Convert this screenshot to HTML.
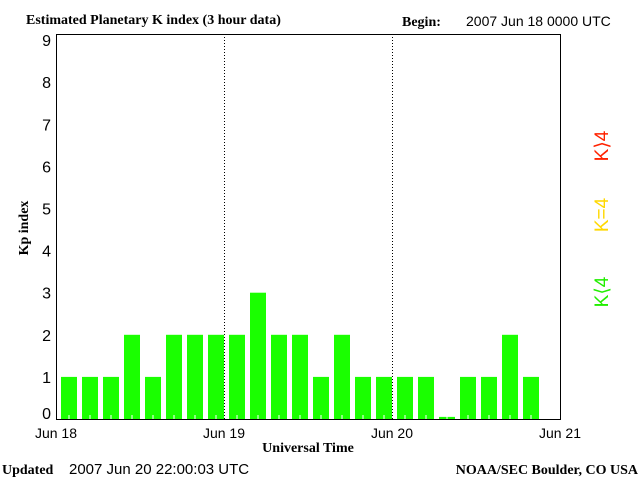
<!DOCTYPE html>
<html><head><style>
body{margin:0;background:#fff;}
svg{display:block;font-family:"Liberation Sans","DejaVu Sans",sans-serif;}
</style></head><body>
<svg id="chart" width="640" height="480" xmlns="http://www.w3.org/2000/svg">
<rect x="0" y="0" width="640" height="480" fill="#fff"/>
<text x="26" y="24" font-size="14" font-weight="bold" font-family="Liberation Serif, serif">Estimated Planetary K index (3 hour data)</text>
<text x="402" y="26" font-size="14" font-weight="bold" font-family="Liberation Serif, serif">Begin:</text>
<text x="466" y="26" font-size="14">2007 Jun 18 0000 UTC</text>
<g id="bars"></g>
<g id="axes"></g>
<text x="308" y="452" font-size="14" font-weight="bold" text-anchor="middle" font-family="Liberation Serif, serif">Universal Time</text>
<text transform="translate(28,228) rotate(-90)" font-size="14" font-weight="bold" text-anchor="middle" font-family="Liberation Serif, serif">Kp index</text>
<text transform="translate(608,292) rotate(-90)" font-size="19" fill="#22ee00" text-anchor="middle">K⟨4</text>
<text transform="translate(608,215) rotate(-90)" font-size="19" fill="#ffd800" text-anchor="middle">K=4</text>
<text transform="translate(608,146) rotate(-90)" font-size="19" fill="#ff2200" text-anchor="middle">K⟩4</text>
<text x="2" y="474" font-size="14" font-weight="bold" font-family="Liberation Serif, serif">Updated</text>
<text x="69" y="474" font-size="15">2007 Jun 20 22:00:03 UTC</text>
<text x="638" y="474" font-size="14" font-weight="bold" text-anchor="end" font-family="Liberation Serif, serif">NOAA/SEC Boulder, CO USA</text>
</svg>
<script>
const kpValues=[1,1,1,2,1,2,2,2, 2,3,2,2,1,2,1,1, 1,1,0.05,1,1,2,1];
const yTicks=[0,1,2,3,4,5,6,7,8,9];
const dayLabels=["Jun 18","Jun 19","Jun 20","Jun 21"];
const NS="http://www.w3.org/2000/svg";
const X0=56,X1=560,Y0=419,YTOP=34,UNIT=42.1;
const xSlot=i=>X0+(X1-X0)*i/24;
const xDay=d=>X0+(X1-X0)*d/3;
const y=v=>Y0-UNIT*v;
function mk(tag,attrs,parent){const e=document.createElementNS(NS,tag);for(const k in attrs)e.setAttribute(k,attrs[k]);parent.appendChild(e);return e;}
const bars=document.getElementById('bars'),axes=document.getElementById('axes');
kpValues.forEach((v,i)=>{
  const col=v<4?'#1aff00':(v===4?'#ffd800':'#ff2200');
  const r=mk('rect',{x:xSlot(i)+5,y:y(v),width:16,height:Y0-y(v),fill:col},bars);
  
  
});
for(let i=0;i<24;i++){
  const t=mk('line',{x1:xSlot(i)+13,x2:xSlot(i)+13,y1:Y0,y2:Y0-4,stroke:'#fff','stroke-width':1},bars);
  
  
}
[1,2].forEach(d=>{
  const l=mk('line',{x1:xDay(d)+0.5,x2:xDay(d)+0.5,y1:YTOP,y2:Y0,stroke:'#000','stroke-dasharray':'1,2'},axes);
  
  
});
const fr=mk('rect',{x:X0+0.5,y:YTOP+0.5,width:X1-X0,height:Y0-YTOP,fill:'none',stroke:'#000','stroke-width':1},axes);


yTicks.forEach(t=>{
  const tx=mk('text',{x:X0-5,y:y(t)+6-(t===0?6:0),'font-size':16,'text-anchor':'end'},axes);
  tx.textContent=t;
  
  
});
dayLabels.forEach((s,d)=>{
  const tx=mk('text',{x:xDay(d),y:438,'font-size':14,'text-anchor':'middle'},axes);
  tx.textContent=s;
  
  
});
</script>
</body></html>
